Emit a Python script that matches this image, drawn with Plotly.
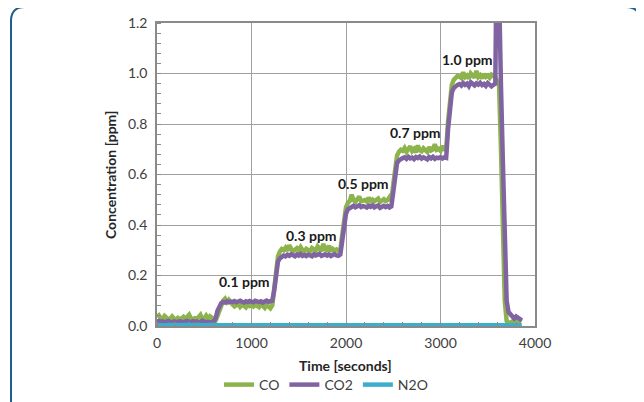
import plotly.graph_objects as go

# time axis (seconds), sampled every 20 s
time_s = list(range(0, 3880, 20))

co = [
    0.035, 0.042, 0.030, 0.028, 0.040, 0.033, 0.026, 0.030, 0.038, 0.029,
    0.025, 0.032, 0.027, 0.030, 0.036, 0.028, 0.034, 0.045, 0.030, 0.026,
    0.031, 0.028, 0.035, 0.044, 0.027, 0.030, 0.041, 0.029, 0.038, 0.032,
    0.025, 0.022, 0.040, 0.065, 0.080, 0.100, 0.108, 0.095, 0.104, 0.090,
    0.085, 0.078, 0.082, 0.088, 0.076, 0.084, 0.080, 0.074, 0.086, 0.079,
    0.083, 0.077, 0.085, 0.080, 0.075, 0.087, 0.081, 0.072, 0.084, 0.078,
    0.070, 0.082, 0.150, 0.230, 0.275, 0.295, 0.305, 0.300, 0.310, 0.298,
    0.320, 0.305, 0.296, 0.302, 0.308, 0.299, 0.312, 0.300, 0.295, 0.306,
    0.300, 0.296, 0.309, 0.302, 0.298, 0.315, 0.304, 0.297, 0.325, 0.303,
    0.301, 0.318, 0.296, 0.305, 0.299, 0.303, 0.297, 0.300, 0.360, 0.430,
    0.470, 0.488, 0.495, 0.520, 0.498, 0.492, 0.500, 0.512, 0.494, 0.497,
    0.499, 0.493, 0.508, 0.496, 0.501, 0.494, 0.498, 0.505, 0.491, 0.497,
    0.502, 0.495, 0.499, 0.510, 0.496, 0.560, 0.640, 0.675, 0.690, 0.698,
    0.694, 0.705, 0.690, 0.699, 0.712, 0.693, 0.701, 0.688, 0.715, 0.696,
    0.692, 0.704, 0.697, 0.690, 0.708, 0.695, 0.699, 0.720, 0.698, 0.702,
    0.694, 0.713, 0.700, 0.697, 0.810, 0.910, 0.955, 0.975, 0.985, 0.990,
    0.988, 0.982, 1.005, 0.986, 0.992, 0.980, 1.000, 0.989, 0.984, 1.010,
    0.986, 0.993, 0.981, 0.998, 0.987, 0.992, 0.983, 0.995, 0.988, 0.985,
    0.970, 0.950, 0.700, 0.400, 0.100, 0.020, 0.012, 0.014, 0.018, 0.015,
    0.020, 0.016, 0.022, 0.018,
]

co2 = [
    0.018, 0.020, 0.016, 0.019, 0.015, 0.017, 0.020, 0.016, 0.014, 0.018,
    0.017, 0.015, 0.019, 0.016, 0.014, 0.018, 0.020, 0.017, 0.015, 0.019,
    0.016, 0.018, 0.014, 0.017, 0.021, 0.016, 0.015, 0.018, 0.017, 0.016,
    0.018, 0.030, 0.060, 0.082, 0.091, 0.095, 0.093, 0.098, 0.094, 0.097,
    0.095, 0.099, 0.094, 0.097, 0.100, 0.096, 0.093, 0.098, 0.095, 0.099,
    0.096, 0.094, 0.100, 0.097, 0.095, 0.098, 0.093, 0.097, 0.101, 0.096,
    0.098, 0.100, 0.140, 0.215, 0.255, 0.268, 0.274, 0.279, 0.276, 0.282,
    0.278, 0.284, 0.280, 0.276, 0.283, 0.279, 0.285, 0.278, 0.281, 0.277,
    0.283, 0.280, 0.276, 0.284, 0.279, 0.282, 0.286, 0.278, 0.281, 0.284,
    0.279, 0.283, 0.277, 0.282, 0.285, 0.280, 0.278, 0.283, 0.330, 0.400,
    0.445, 0.462, 0.468, 0.472, 0.476, 0.470, 0.474, 0.478, 0.471, 0.475,
    0.473, 0.469, 0.476, 0.472, 0.478, 0.470, 0.474, 0.477, 0.468, 0.473,
    0.476, 0.471, 0.475, 0.469, 0.474, 0.530, 0.610, 0.645, 0.656, 0.662,
    0.665, 0.668, 0.662, 0.670, 0.664, 0.667, 0.661, 0.669, 0.665, 0.671,
    0.663, 0.668, 0.666, 0.660, 0.669, 0.664, 0.670, 0.662, 0.667, 0.665,
    0.669, 0.663, 0.668, 0.666, 0.780, 0.880, 0.925, 0.942, 0.950, 0.955,
    0.958, 0.952, 0.962, 0.955, 0.960, 0.950, 0.965, 0.957, 0.953, 0.961,
    0.956, 0.963, 0.954, 0.959, 0.951, 0.962, 0.957, 0.949, 0.955, 0.960,
    1.700, 1.250, 0.950, 0.650, 0.350, 0.100, 0.055, 0.045, 0.040, 0.030,
    0.038, 0.034, 0.028, 0.022,
]

n2o = [
    0.004, 0.003, 0.005, 0.003, 0.004, 0.002, 0.004, 0.005, 0.003, 0.004,
    0.003, 0.004, 0.002, 0.005, 0.003, 0.004, 0.003, 0.006, 0.003, 0.004,
    0.004, 0.003, 0.005, 0.003, 0.002, 0.004, 0.003, 0.004, 0.005, 0.003,
    0.004, 0.003, 0.003, 0.005, 0.004, 0.006, 0.003, 0.004, 0.003, 0.005,
    0.003, 0.004, 0.005, 0.003, 0.004, 0.003, 0.002, 0.004, 0.005, 0.003,
    0.004, 0.003, 0.004, 0.006, 0.003, 0.004, 0.003, 0.005, 0.003, 0.004,
    0.003, 0.004, 0.005, 0.003, 0.004, 0.003, 0.004, 0.002, 0.004, 0.003,
    0.005, 0.003, 0.004, 0.003, 0.006, 0.004, 0.003, 0.004, 0.003, 0.005,
    0.004, 0.003, 0.004, 0.005, 0.003, 0.004, 0.003, 0.004, 0.003, 0.004,
    0.003, 0.005, 0.003, 0.004, 0.004, 0.003, 0.005, 0.003, 0.004, 0.003,
    0.004, 0.003, 0.004, 0.003, 0.005, 0.004, 0.003, 0.004, 0.006, 0.003,
    0.004, 0.003, 0.004, 0.005, 0.003, 0.004, 0.003, 0.004, 0.003, 0.005,
    0.003, 0.004, 0.003, 0.004, 0.005, 0.003, 0.004, 0.003, 0.004, 0.003,
    0.004, 0.005, 0.003, 0.004, 0.003, 0.004, 0.003, 0.005, 0.004, 0.003,
    0.004, 0.003, 0.004, 0.003, 0.005, 0.004, 0.003, 0.004, 0.003, 0.004,
    0.003, 0.004, 0.005, 0.003, 0.004, 0.003, 0.004, 0.003, 0.005, 0.004,
    0.003, 0.004, 0.003, 0.004, 0.003, 0.005, 0.004, 0.003, 0.004, 0.003,
    0.004, 0.003, 0.005, 0.004, 0.003, 0.004, 0.003, 0.004, 0.005, 0.003,
    0.004, 0.003, 0.004, 0.003, 0.005, 0.004, 0.006, 0.004, 0.003, 0.004,
    0.003, 0.004, 0.005, 0.003,
]

series_names = ["CO", "CO2", "N2O"]
series_colors = ["#8db44c", "#8064a2", "#3aaecb"]

labels_text = ["0.1 ppm", "0.3 ppm", "0.5 ppm", "0.7 ppm", "1.0 ppm"]
labels_x = [930, 1640, 2180, 2740, 3290]
labels_y = [0.175, 0.36, 0.563, 0.765, 1.055]

x_ticks = [0, 1000, 2000, 3000, 4000]
y_ticks = [0.0, 0.2, 0.4, 0.6, 0.8, 1.0, 1.2]

x_title = "Time [seconds]"
y_title = "Concentration [ppm]"

FONT = "Lato, Carlito, 'Liberation Sans', sans-serif"

fig = go.Figure()
for name, col, vals in zip(series_names, series_colors, [co, co2, n2o]):
    fig.add_trace(go.Scatter(x=time_s, y=vals, mode="lines", name=name,
                             line=dict(color=col, width=4.5)))

for txt, xv, yv in zip(labels_text, labels_x, labels_y):
    fig.add_annotation(x=xv, y=yv, text="<b>%s</b>" % txt, showarrow=False,
                       font=dict(family=FONT, size=14, color="#1a1a1a"))

grid = "#a0a0a0"
fig.update_xaxes(range=[0, 4000], tickvals=x_ticks, ticks="", showgrid=True,
                 gridcolor=grid, gridwidth=1.3, showline=True, linecolor="#8a8a8a",
                 linewidth=1.5, mirror=True, zeroline=False, automargin=False,
                 ticklabelstandoff=3,
                 tickfont=dict(family=FONT, size=14, color="#404040"),
                 minor=dict(dtick=200, ticks="inside", ticklen=4, tickcolor="#8a8a8a", showgrid=False))
fig.update_yaxes(range=[0, 1.2], tickvals=y_ticks, tickformat=".1f", ticks="",
                 showgrid=True, gridcolor=grid, gridwidth=1.3, showline=True,
                 linecolor="#8a8a8a", linewidth=1.5, mirror=True, zeroline=False,
                 automargin=False, ticklabelstandoff=5,
                 tickfont=dict(family=FONT, size=14, color="#404040"),
                 minor=dict(dtick=0.04, ticks="inside", ticklen=4, tickcolor="#8a8a8a", showgrid=False))

# page body adds an 8 px offset, so the figure is drawn 8 px smaller and shifted
OFF = 8
W, H = 644 - OFF, 402 - OFF
L, T, B, R = 157 - OFF, 23 - OFF, 326 - OFF, 535 - OFF
def px(xp):
    return (xp - OFF - L) / (R - L)
def py(yp):
    return (B - (yp - OFF)) / (B - T)

# axis titles
fig.add_annotation(text="<b>%s</b>" % x_title, xref="paper", yref="paper",
                   x=px(345), y=py(365), xanchor="center", yanchor="middle",
                   showarrow=False, borderpad=0,
                   font=dict(family=FONT, size=14, color="#262626"))
fig.add_annotation(text="<b>%s</b>" % y_title, xref="paper", yref="paper",
                   x=px(110), y=py(175), xanchor="center", yanchor="middle",
                   showarrow=False, textangle=-90,
                   font=dict(family=FONT, size=14, color="#262626"))

# rounded frame
x0, x1 = px(11), px(640)
y0, y1 = py(430), py(7)
rx, ry = 14 / (R - L), 14 / (B - T)
path = (f"M {x0} {y0} L {x0} {y1 - ry} Q {x0} {y1} {x0 + rx} {y1} "
        f"L {x1 - rx} {y1} Q {x1} {y1} {x1} {y1 - ry} L {x1} {y0}")
fig.add_shape(type="path", path=path, xref="paper", yref="paper",
              line=dict(color="#1f5f8f", width=2), layer="below")

fig.update_layout(
    width=W, height=H,
    margin=dict(l=L, r=W - R, t=T, b=H - B, autoexpand=False),
    plot_bgcolor="white", paper_bgcolor="white",
    font=dict(family=FONT, size=14, color="#404040"),
    showlegend=True,
    legend=dict(orientation="h", x=px(219), xanchor="left",
                yref="container", y=1 - (385 - OFF) / H, yanchor="middle",
                font=dict(family=FONT, size=14, color="#404040"),
                itemwidth=30, tracegroupgap=0, bgcolor="rgba(0,0,0,0)"),
)

fig.write_html("out.html")
